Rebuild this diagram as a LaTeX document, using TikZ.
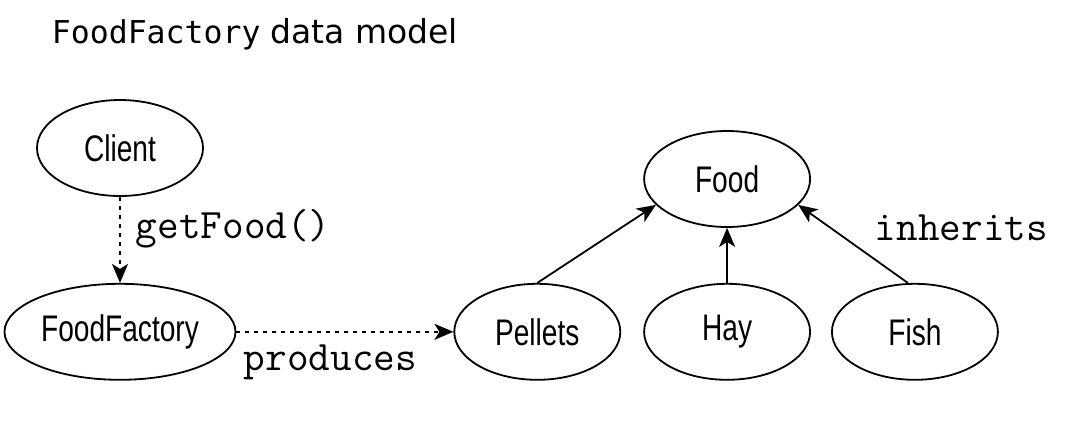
\documentclass[tikz,border=0pt]{standalone}
\usepackage{fontspec}
\setmainfont{Liberation Sans}
\newfontfamily\condfont[FakeStretch=0.76]{Liberation Sans}
\newfontfamily\titlecode{DejaVu Sans Mono}
\newfontfamily\titlefont{DejaVu Sans}
\usepackage{tikz}
\usetikzlibrary{positioning, arrows.meta, shapes.geometric}

\begin{document}
\begin{tikzpicture}[x=1pt, y=-1pt, >={Stealth[length=19pt, width=16pt, inset=5pt]}, line width=1.8pt, node distance=20pt]
    \tikzstyle{class}=[ellipse, draw=black, line width=1.8pt, minimum width=166pt, minimum height=96pt, inner sep=0pt, font=\condfont\fontsize{37}{42}\selectfont]
    \tikzstyle{call}=[->, dash pattern=on 4pt off 5pt]
    \tikzstyle{code}=[inner sep=0pt, anchor=base west, font=\ttfamily\fontsize{42}{46}\selectfont]

    \useasboundingbox (0,0) rectangle (1091,445);

    % Title
    \node[anchor=base west, inner sep=0pt] (title) at (51,43) {{\titlecode\fontsize{31.5}{36}\selectfont FoodFactory}\hspace{10pt}{\titlefont\fontsize{33}{36}\selectfont data model}};

    % Classes
    \node[class]                                     (client)  at (120,148) {Client};
    \node[class, minimum width=231pt, below=86pt of client] (factory) {FoodFactory};
    \node[class, right=217pt of factory]             (pellets) {Pellets};
    \node[class, right=22pt of pellets]              (hay)     {Hay};
    \node[class, right=20pt of hay]                  (fish)    {Fish};
    \node[class, above=55pt of hay]                  (food)    {Food};

    % Dotted calls
    \draw[call] (client) -- (factory);
    \draw[call] (factory) -- (pellets);
    \node[code] (getfood)  at (135,238) {getFood()};
    \node[code] (produces) at (243,370) {produces};

    % Inheritance
    \draw[->] (pellets.north) -- (food.200);
    \draw[->] (hay) -- (food);
    \draw[->] (fish.98) -- (food.340);
    \node[code] (inherits) at (874,240) {inherits};
\end{tikzpicture}
\end{document}
